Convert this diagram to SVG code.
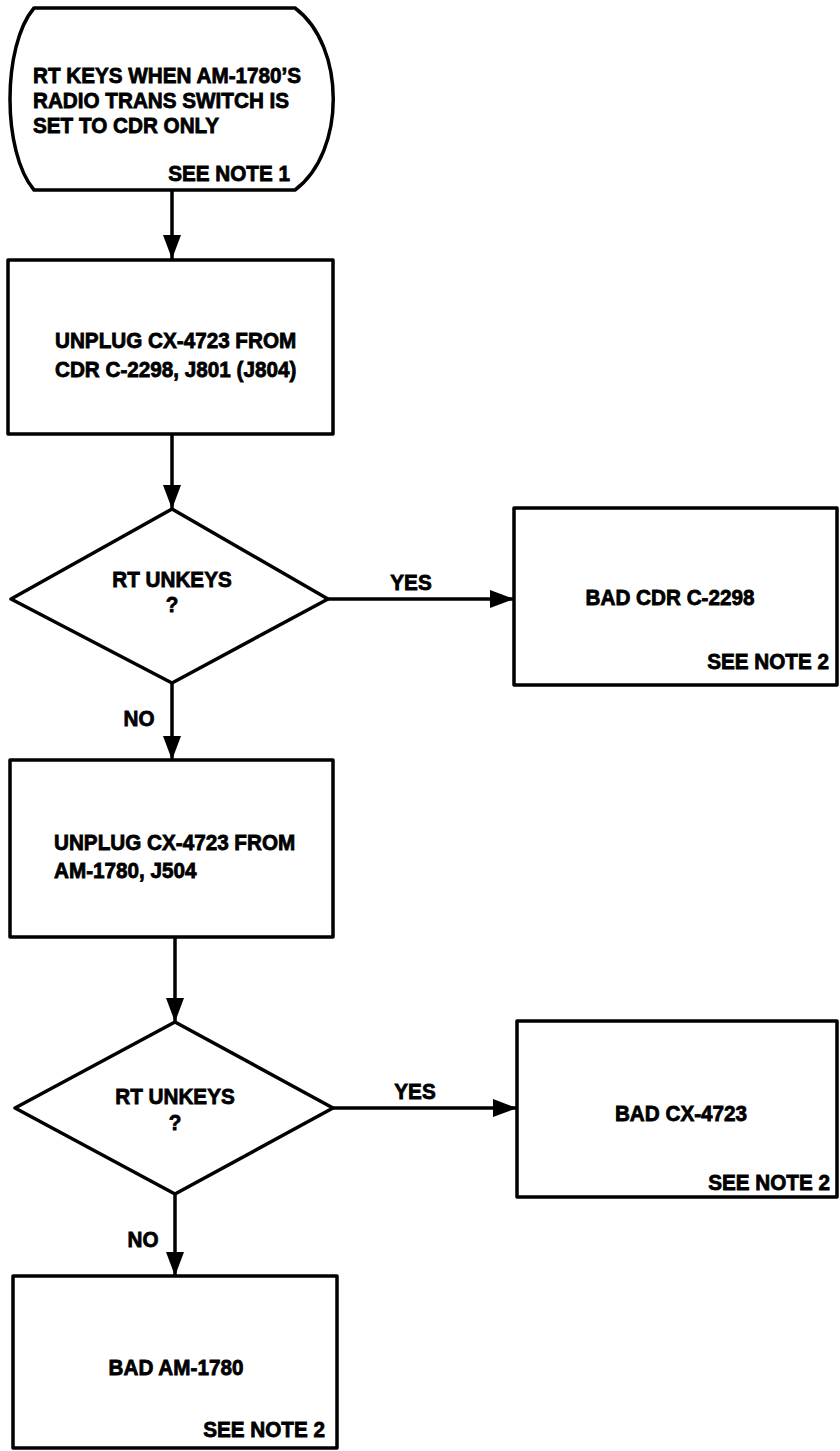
<svg xmlns="http://www.w3.org/2000/svg" width="840" height="1451" viewBox="0 0 840 1451">
<defs>
<style>
.s{fill:#fff;stroke:#000;stroke-width:3.5;stroke-linejoin:round}
.t{font-family:"Liberation Sans",Arial,sans-serif;font-weight:bold;font-size:22px;fill:#000;stroke:#000;stroke-width:0.8}
.m{text-anchor:middle}
.e{text-anchor:end}
.c{fill:none;stroke:#000;stroke-width:3.5}
</style>
<marker id="ah" markerUnits="userSpaceOnUse" markerWidth="24" markerHeight="18" refX="24" refY="9" viewBox="0 0 24 18" orient="auto">
<path d="M0,0 L24,9 L0,18 Z" fill="#000"/>
</marker>
</defs>
<rect width="840" height="1451" fill="#fff"/>
<g id="connectors">
<line class="c" x1="172" y1="190" x2="172" y2="259" marker-end="url(#ah)"/>
<line class="c" x1="172" y1="434" x2="172" y2="509" marker-end="url(#ah)"/>
<line class="c" x1="328" y1="599" x2="514" y2="599" marker-end="url(#ah)"/>
<line class="c" x1="172" y1="683" x2="172" y2="760" marker-end="url(#ah)"/>
<line class="c" x1="175" y1="937" x2="175" y2="1022" marker-end="url(#ah)"/>
<line class="c" x1="333" y1="1108" x2="517" y2="1108" marker-end="url(#ah)"/>
<line class="c" x1="175" y1="1194" x2="175" y2="1276" marker-end="url(#ah)"/>
<text class="t m" transform="translate(411,590) scale(0.94,1)">YES</text>
<text class="t m" transform="translate(415,1099) scale(0.94,1)">YES</text>
<text class="t m" transform="translate(139,726) scale(0.94,1)">NO</text>
<text class="t m" transform="translate(143,1247) scale(0.94,1)">NO</text>
</g>
<g id="start">
<path class="s" d="M34,8 L295,8 C346,46 346,152 295,190 L34,190 C2,152 2,46 34,8 Z"/>
<text class="t" transform="translate(33,83) scale(0.94,1)">RT KEYS WHEN AM-1780’S</text>
<text class="t" transform="translate(33,108) scale(0.94,1)">RADIO TRANS SWITCH IS</text>
<text class="t" transform="translate(33,133) scale(0.94,1)">SET TO CDR ONLY</text>
<text class="t e" transform="translate(290,181) scale(0.94,1)">SEE NOTE 1</text>
</g>
<g id="step1">
<rect class="s" x="8" y="260" width="325" height="174"/>
<text class="t" transform="translate(55,348) scale(0.94,1)">UNPLUG CX-4723 FROM</text>
<text class="t" transform="translate(55,377) scale(0.94,1)">CDR C-2298, J801 (J804)</text>
</g>
<g id="dec1">
<path class="s" d="M172,509 L328,599 L172,683 L11,599 Z"/>
<text class="t m" transform="translate(172,587) scale(0.94,1)">RT UNKEYS</text>
<text class="t m" transform="translate(172,612) scale(0.94,1)">?</text>
</g>
<g id="bad1">
<rect class="s" x="514" y="508" width="323" height="177"/>
<text class="t m" transform="translate(670,605) scale(0.94,1)">BAD CDR C-2298</text>
<text class="t e" transform="translate(829,669) scale(0.94,1)">SEE NOTE 2</text>
</g>
<g id="step2">
<rect class="s" x="10" y="760" width="323" height="177"/>
<text class="t" transform="translate(54,850) scale(0.94,1)">UNPLUG CX-4723 FROM</text>
<text class="t" transform="translate(54,878) scale(0.94,1)">AM-1780, J504</text>
</g>
<g id="dec2">
<path class="s" d="M175,1022 L333,1108 L175,1194 L15,1108 Z"/>
<text class="t m" transform="translate(175,1104) scale(0.94,1)">RT UNKEYS</text>
<text class="t m" transform="translate(175,1130) scale(0.94,1)">?</text>
</g>
<g id="bad2">
<rect class="s" x="517" y="1021" width="320" height="176"/>
<text class="t m" transform="translate(681,1121) scale(0.94,1)">BAD CX-4723</text>
<text class="t e" transform="translate(830,1190) scale(0.94,1)">SEE NOTE 2</text>
</g>
<g id="bad3">
<rect class="s" x="13" y="1276" width="324" height="172"/>
<text class="t m" transform="translate(176,1375) scale(0.94,1)">BAD AM-1780</text>
<text class="t e" transform="translate(325,1437) scale(0.94,1)">SEE NOTE 2</text>
</g>
</svg>
